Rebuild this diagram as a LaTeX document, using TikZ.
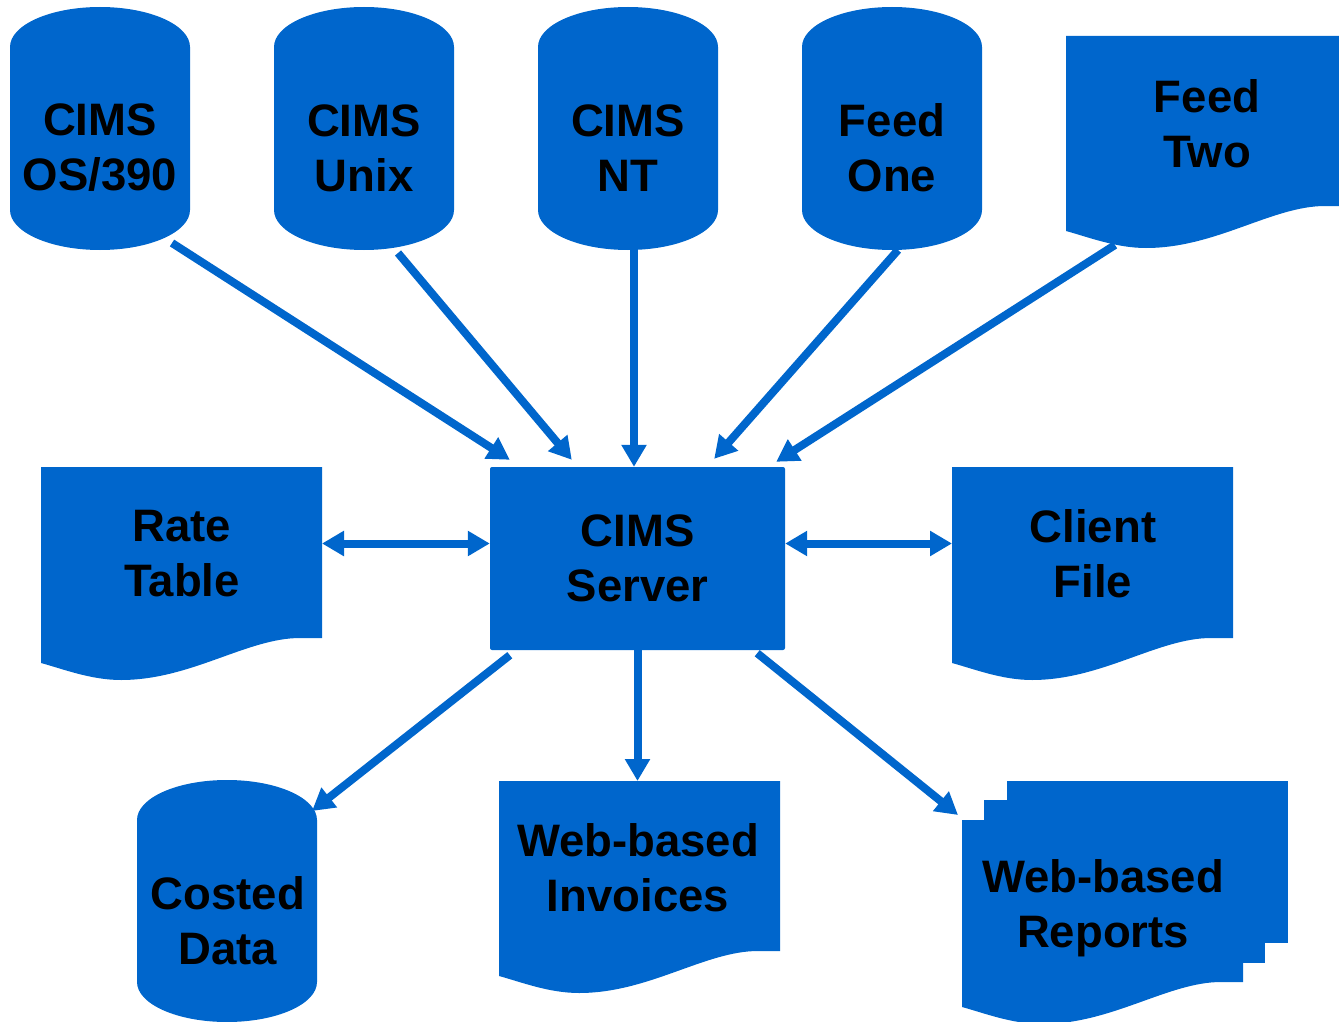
\documentclass[tikz,border=0pt]{standalone}
\usepackage{fontspec}
\setmainfont{Liberation Sans}
\usepackage{tikz}
\usetikzlibrary{arrows.meta, calc}

\definecolor{cimsblue}{RGB}{0,102,204}

\tikzset{
  box/.style={inner sep=0pt, outer sep=0pt},
  tag/.style={font=\bfseries\fontsize{45.5}{55}\selectfont, align=center, inner sep=0pt},
  link/.style={draw=cimsblue, line width=8pt, -{Triangle[length=22pt,width=24pt]}},
  twoway/.style={link, {Triangle[length=22pt,width=24pt]}-{Triangle[length=22pt,width=24pt]}},
}

% database drum fitted to a box node
\newcommand\dbfill[1]{%
  \fill[cimsblue] ($(#1.north west)+(0,40)$) arc[start angle=180, end angle=0, x radius=90pt, y radius=40pt]
    -- ($(#1.south east)+(0,-40)$) arc[start angle=0, end angle=-180, x radius=90pt, y radius=40pt] -- cycle;}
% document sheet with wavy bottom fitted to a box node
\newcommand\docfill[1]{%
  \fill[cimsblue] ($(#1.south west)+(0,-17)$) -- (#1.north west) -- (#1.north east)
    -- ($(#1.south east)+(0,-42)$) -- ($(#1.south east)+(-22,-42)$)
    .. controls ($(#1.south east)+(-75,-42)$) and ($(#1.south west)+(150,0)$) .. ($(#1.south west)+(80,0)$)
    .. controls ($(#1.south west)+(50,0)$) and ($(#1.south west)+(22,-11)$) .. ($(#1.south west)+(0,-17)$) -- cycle;}

\begin{document}
\begin{tikzpicture}[x=1pt, y=-1pt]
  \useasboundingbox (0,0) rectangle (1339,1022);
  \clip (0,0) rectangle (1339,1022);

  % sources
  \node[box, minimum width=180pt, minimum height=243pt] (os) at (100,128.5) {};
  \node[box, minimum width=180pt, minimum height=243pt] (unix) at (364,128.5) {};
  \node[box, minimum width=180pt, minimum height=243pt] (nt) at (628,128.5) {};
  \node[box, minimum width=180pt, minimum height=243pt] (feedone) at (892,128.5) {};
  \node[box, minimum width=281pt, minimum height=212pt] (feedtwo) at (1206.5,142) {};
  \dbfill{os} \dbfill{unix} \dbfill{nt} \dbfill{feedone} \docfill{feedtwo}

  % middle row
  \node[box, minimum width=281pt, minimum height=213pt] (rate) at (181.5,573.5) {};
  \node[box, minimum width=281pt, minimum height=213pt] (client) at (1092.5,573.5) {};
  \docfill{rate} \docfill{client}
  \node[tag, fill=cimsblue, rounded corners=2pt, minimum width=295pt, minimum height=183pt] (server) at (637.5,558.5) {CIMS\\Server};

  % outputs
  \node[box, minimum width=180pt, minimum height=242pt] (costed) at (227,901) {};
  \node[box, minimum width=281pt, minimum height=212pt] (invoices) at (639.5,887) {};
  \node[box, minimum width=281pt, minimum height=204pt] (reports) at (1102.5,922) {};
  \dbfill{costed} \docfill{invoices}
  \fill[cimsblue] ($(reports.north west)+(45,-39)$) rectangle ($(reports.south east)+(45,-81)$);
  \fill[cimsblue] ($(reports.north west)+(22,-20)$) rectangle ($(reports.south east)+(22,-61)$);
  \docfill{reports}

  % labels
  \node[tag] (ostext) at (100,148) {CIMS\\OS/390};
  \node[tag] (unixtext) at (364,148) {CIMS\\Unix};
  \node[tag] (nttext) at (628,148) {CIMS\\NT};
  \node[tag] (onetext) at (892,148) {Feed\\One};
  \node[tag] (twotext) at (1207,124) {Feed\\Two};
  \node[tag] (ratetext) at (182,554) {Rate\\Table};
  \node[tag] (clienttext) at (1093,554) {Client\\File};
  \node[tag] (costedtext) at (228,921) {Costed\\Data};
  \node[tag] (invtext) at (638,868) {Web-based\\Invoices};
  \node[tag] (reptext) at (1103,908) {Web-based\\Reports};

  % connectors
  \draw[link] ($(os.south)+(72,-7)$) -- ($(server.north west)+(20,-7)$);
  \draw[link] ($(unix.south)+(34,3)$) -- ($(server.north west)+(82,-7)$);
  \draw[link] ($(nt.south)+(6,0)$) -- ($(server.north)+(-3.5,0)$);
  \draw[link] ($(feedone.south)+(6,0)$) -- ($(server.north east)+(-71,-8)$);
  \draw[link] ($(feedtwo.south west)+(49,-3)$) -- ($(server.north east)+(-9,-5)$);
  \draw[twoway] ($(rate.east)+(0,-30)$) -- ($(server.west)+(0,-15)$);
  \draw[twoway] ($(server.east)+(0,-15)$) -- ($(client.west)+(0,-30)$);
  \draw[link] ($(server.south west)+(20,5)$) -- ($(costed.north east)+(-5,31)$);
  \draw[link] (server.south) -- (server.south |- invoices.north);
  \draw[link] ($(server.south east)+(-28,3)$) -- ($(reports.north west)+(-4,-5)$);
\end{tikzpicture}
\end{document}
